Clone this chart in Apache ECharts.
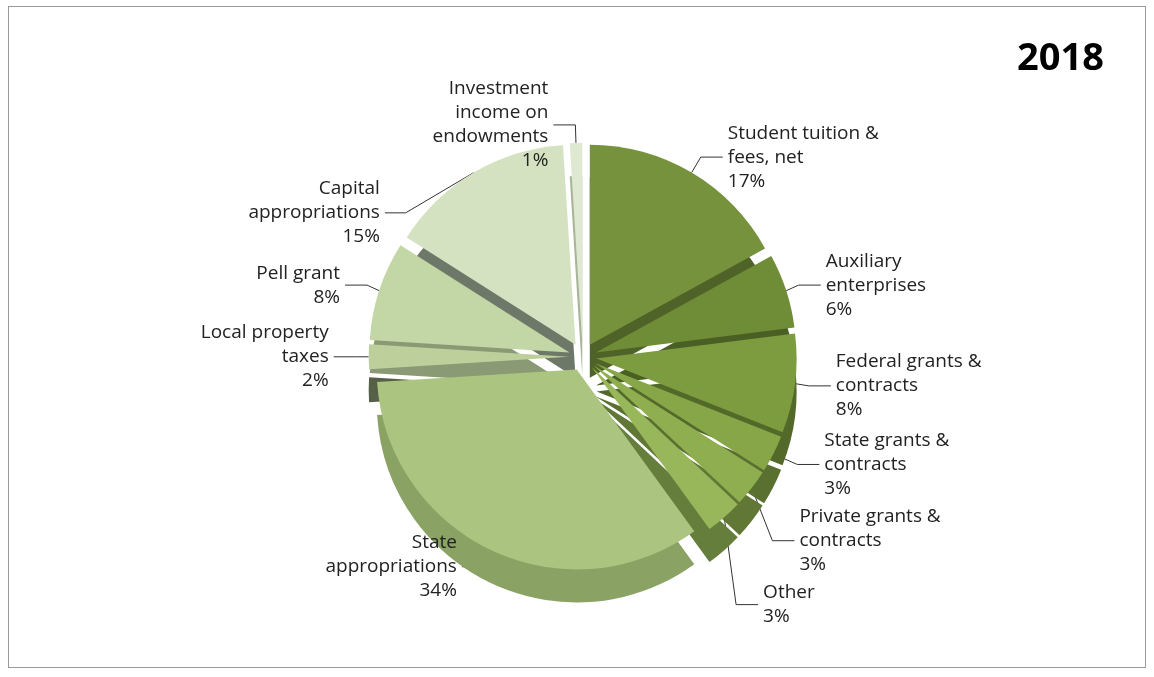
<!DOCTYPE html>
<html><head><meta charset="utf-8">
<script src="https://cdn.jsdelivr.net/npm/echarts@6/dist/echarts.min.js"></script>
<style>
body{margin:0;background:#fff;}
#chart{position:absolute;left:8px;top:6px;width:1138px;height:662px;border:1px solid #999;box-sizing:border-box;}
</style></head><body>
<div id="chart"></div>
<script>
var chart = echarts.init(document.getElementById('chart'));

var categories = ['Student tuition &\nfees, net', 'Auxiliary\nenterprises', 'Federal grants &\ncontracts',
    'State grants &\ncontracts', 'Private grants &\ncontracts', 'Other', 'State\nappropriations',
    'Local property\ntaxes', 'Pell grant', 'Capital\nappropriations', 'Investment\nincome on\nendowments'];
var values = [17, 6, 8, 3, 3, 3, 34, 2, 8, 15, 1];
var topColors = ['#76923c', '#6f8c36', '#7d9b3f', '#87a648', '#8fae4f', '#98b65a', '#abc47f',
    '#bdd09c', '#c3d6a6', '#d5e2c2', '#dfe9d1'];
var sideColors = ['#4f6328', '#4a5f24', '#53692a', '#5a7030', '#607735', '#667e3c', '#8aa264',
    '#566047', '#8a9a74', '#6e7868', '#a9b59a'];

function makeData(colors) {
    return categories.map(function (c, i) {
        return { name: c, value: values[i], selected: true, itemStyle: { color: colors[i] } };
    });
}

chart.setOption({
    title: {
        text: '2018', right: 36, top: 28,
        textStyle: { fontSize: 38, fontWeight: 'bold', color: '#000', fontFamily: 'Open Sans' }
    },
    series: [
        {
            type: 'pie', radius: 200, center: ['50.5%', '58%'], startAngle: 90,
            selectedMode: 'multiple', selectedOffset: 14, silent: true,
            label: { show: false }, labelLine: { show: false },
            data: makeData(sideColors)
        },
        {
            type: 'pie', radius: 200, center: ['50.5%', '53%'], startAngle: 90,
            selectedMode: 'multiple', selectedOffset: 14,
            itemStyle: { borderColor: '#fff', borderWidth: 0 },
            label: {
                formatter: '{b}\n{d}%', color: '#222', fontSize: 19, lineHeight: 24,
                fontFamily: 'Open Sans', align: 'center'
            },
            labelLine: { length: 18, length2: 22, lineStyle: { color: '#333' } },
            data: makeData(topColors)
        }
    ]
});
</script>
</body></html>
